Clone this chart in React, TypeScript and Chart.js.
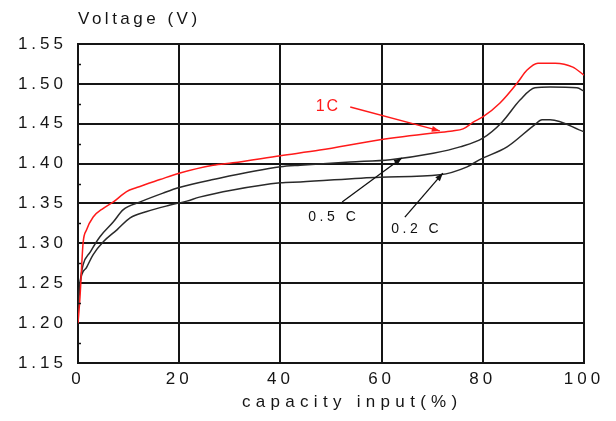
import React, { useEffect, useRef } from 'react';
import { Chart, registerables } from 'chart.js';

Chart.register(...registerables);

const FONT = '"Liberation Sans", Arial, sans-serif';
const INK = '#151515';

// ---- data ----
const xTickValues = [0, 20, 40, 60, 80, 100];
const yTickValues = [1.15, 1.2, 1.25, 1.3, 1.35, 1.4, 1.45, 1.5, 1.55];
const yMinorTicks = [1.175, 1.225, 1.275, 1.325, 1.375, 1.425, 1.475, 1.525];

const c1X = [0, 0.4, 1.0, 1.7, 3.0, 5.0, 7.0, 9.6, 11.6, 16.2, 20, 26.7, 30.6, 40, 47.8, 59.7, 70.2, 74.0, 76.1, 78.1, 80.0, 83.4, 86.8, 88.7, 90.9, 94.3, 97.8, 100];
const c1Y = [1.2, 1.233, 1.3, 1.317, 1.333, 1.344, 1.352, 1.365, 1.37, 1.38, 1.388, 1.398, 1.401, 1.41, 1.417, 1.43, 1.4385, 1.441, 1.4435, 1.452, 1.4585, 1.476, 1.501, 1.517, 1.526, 1.526, 1.521, 1.511];

const c05X = [0.2, 0.4, 1.0, 2.4, 4.3, 7.0, 8.9, 12.3, 16.8, 20, 26.7, 40, 43.9, 53.8, 61.7, 70.2, 75.5, 80.0, 83.8, 87.4, 90.3, 93.3, 98.6, 100];
const c05Y = [1.235, 1.25, 1.273, 1.289, 1.308, 1.327, 1.342, 1.352, 1.363, 1.37, 1.38, 1.396, 1.398, 1.402, 1.405, 1.413, 1.421, 1.432, 1.452, 1.48, 1.495, 1.496, 1.495, 1.491];

const c02X = [0, 0.4, 1.7, 3.0, 5.0, 7.7, 10.3, 13.6, 18.2, 21.5, 24, 30.6, 40, 43.9, 59.7, 71.5, 76.9, 79.4, 84.8, 90.3, 91.7, 93.3, 100];
const c02Y = [1.213, 1.25, 1.27, 1.286, 1.302, 1.317, 1.332, 1.34, 1.348, 1.353, 1.358, 1.367, 1.376, 1.377, 1.383, 1.386, 1.396, 1.405, 1.421, 1.449, 1.455, 1.455, 1.44];

const seriesNames = ['1C', '0.5 C', '0.2 C'];
const seriesColors = ['#ff1a1a', '#2a2a2a', '#2a2a2a'];

// annotations (data coordinates)
const noteTextX = [49.2, 50.2, 66.6];
const noteTextY = [1.471, 1.333, 1.318];
const noteFromX = [53.8, 52.2, 64.6];
const noteFromY = [1.471, 1.352, 1.333];
const noteToX = [71.5, 64.0, 72.1];
const noteToY = [1.441, 1.407, 1.388];
const noteColors = ['#ff1a1a', '#111111', '#111111'];
const noteFontSize = [16, 14, 14];

const yTitle = 'Voltage (V)';
const xTitle = 'capacity input(%)';

const zip = (xs: number[], ys: number[]) => xs.map((x, i) => ({ x, y: ys[i] }));

const decorPlugin = {
  id: 'decor',
  beforeDraw(chart: any) {
    (chart.ctx as any).letterSpacing = '4px';
  },
  afterDraw(chart: any) {
    const ctx = chart.ctx as any;
    const x = chart.scales.x;
    const y = chart.scales.y;
    ctx.save();
    // minor ticks on left axis
    ctx.strokeStyle = INK;
    ctx.lineWidth = 1.5;
    yMinorTicks.forEach((v) => {
      const py = Math.round(y.getPixelForValue(v)) + 0.5;
      ctx.beginPath();
      ctx.moveTo(x.left, py);
      ctx.lineTo(x.left + 3, py);
      ctx.stroke();
    });

    // annotations
    for (let i = 0; i < seriesNames.length; i++) {
      const fx = x.getPixelForValue(noteFromX[i]);
      const fy = y.getPixelForValue(noteFromY[i]);
      const tx = x.getPixelForValue(noteToX[i]);
      const ty = y.getPixelForValue(noteToY[i]);
      ctx.strokeStyle = noteColors[i];
      ctx.fillStyle = noteColors[i];
      ctx.lineWidth = 1.3;
      ctx.beginPath();
      ctx.moveTo(fx, fy);
      ctx.lineTo(tx, ty);
      ctx.stroke();
      const ang = Math.atan2(ty - fy, tx - fx);
      const L = 8, W = 3;
      ctx.beginPath();
      ctx.moveTo(tx, ty);
      ctx.lineTo(tx - L * Math.cos(ang) + W * Math.sin(ang), ty - L * Math.sin(ang) - W * Math.cos(ang));
      ctx.lineTo(tx - L * Math.cos(ang) - W * Math.sin(ang), ty - L * Math.sin(ang) + W * Math.cos(ang));
      ctx.closePath();
      ctx.fill();

      const sp = i === 0 ? 2 : 3.5;
      ctx.letterSpacing = sp + 'px';
      ctx.font = `${noteFontSize[i]}px ${FONT}`;
      ctx.textAlign = 'center';
      ctx.textBaseline = 'middle';
      ctx.fillText(seriesNames[i], x.getPixelForValue(noteTextX[i]) + sp / 2, y.getPixelForValue(noteTextY[i]));
    }

    // titles
    ctx.fillStyle = INK;
    ctx.textBaseline = 'alphabetic';
    ctx.textAlign = 'left';
    ctx.letterSpacing = '3.5px';
    ctx.font = `17px ${FONT}`;
    ctx.fillText(yTitle, x.left, 24);
    ctx.letterSpacing = '5.3px';
    ctx.font = `17px ${FONT}`;
    ctx.fillText(xTitle, 242, 407);
    ctx.restore();
    ctx.letterSpacing = '0px';
  },
};

export default function App() {
  const ref = useRef<HTMLCanvasElement | null>(null);
  useEffect(() => {
    document.body.style.margin = '0';
    const canvas = ref.current;
    if (!canvas) return;
    const chart = new Chart(canvas, {
      type: 'line',
      data: {
        datasets: [
          { label: seriesNames[0], data: zip(c1X, c1Y), borderColor: seriesColors[0] },
          { label: seriesNames[1], data: zip(c05X, c05Y), borderColor: seriesColors[1] },
          { label: seriesNames[2], data: zip(c02X, c02Y), borderColor: seriesColors[2] },
        ].map((d) => ({
          ...d,
          borderWidth: 1.5,
          pointRadius: 0,
          fill: false,
          cubicInterpolationMode: 'monotone' as const,
        })),
      },
      options: {
        responsive: false,
        animation: false,
        devicePixelRatio: 1,
        layout: { padding: { top: 44, right: 32, left: 0, bottom: 0 } },
        plugins: { legend: { display: false }, tooltip: { enabled: false } },
        scales: {
          x: {
            type: 'linear',
            min: xTickValues[0],
            max: xTickValues[xTickValues.length - 1],
            afterBuildTicks: (s: any) => {
              s.ticks = xTickValues.map((v) => ({ value: v }));
            },
            afterFit: (s: any) => {
              s.height = 58;
            },
            ticks: {
              color: INK,
              font: { family: FONT, size: 17 },
              padding: 6,
              maxRotation: 0,
              autoSkip: false,
              callback: (v: any) => String(v),
            },
            grid: { color: INK, lineWidth: 2, drawTicks: false },
            border: { display: true, color: INK, width: 2 },
          },
          y: {
            type: 'linear',
            min: yTickValues[0],
            max: yTickValues[yTickValues.length - 1],
            afterBuildTicks: (s: any) => {
              s.ticks = yTickValues.map((v) => ({ value: v }));
            },
            afterFit: (s: any) => {
              s.width = 78;
            },
            ticks: {
              color: INK,
              font: { family: FONT, size: 17 },
              padding: 11,
              autoSkip: false,
              callback: (v: any) => Number(v).toFixed(2),
            },
            grid: { color: INK, lineWidth: 2, drawTicks: false },
            border: { display: true, color: INK, width: 2 },
          },
        },
      },
      plugins: [decorPlugin],
    });
    return () => chart.destroy();
  }, []);
  return (
    <div style={{ position: 'absolute', left: 0, top: 0, width: 616, height: 421, background: '#fff' }}>
      <canvas ref={ref} width={616} height={421} />
    </div>
  );
}
